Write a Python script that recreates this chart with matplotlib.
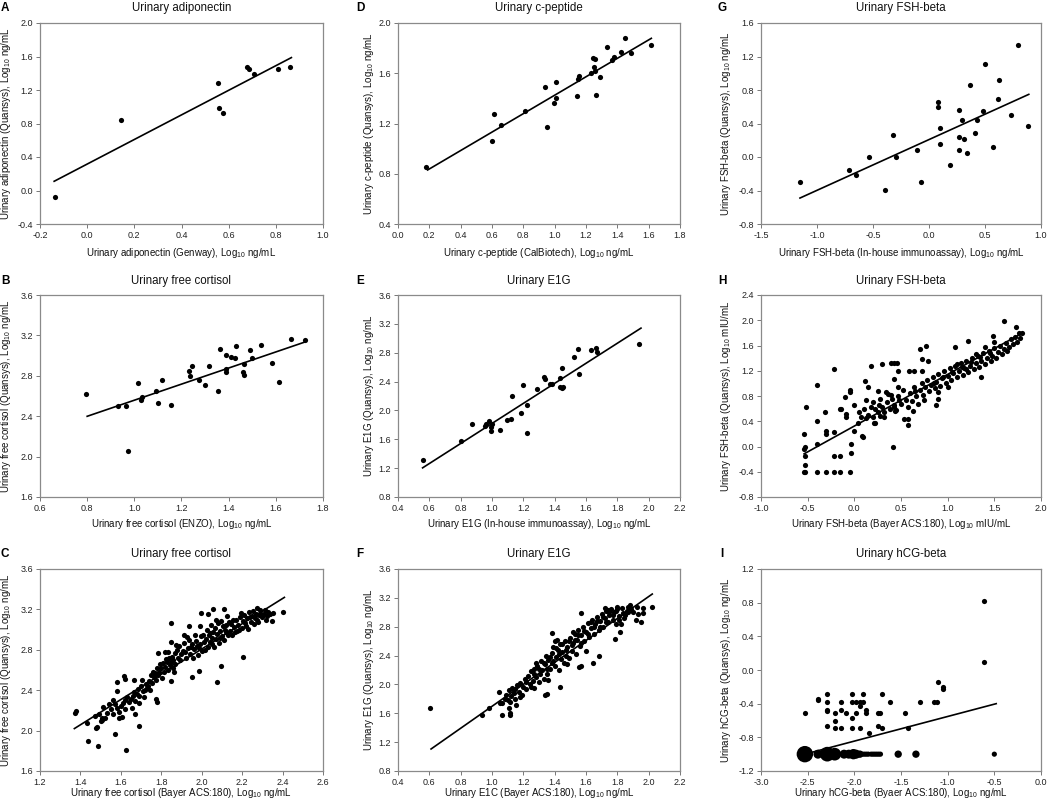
import numpy as np
import matplotlib
matplotlib.use("Agg")
import matplotlib.pyplot as plt
from matplotlib.ticker import FormatStrFormatter

plt.rcParams['font.family'] = ['Liberation Sans', 'DejaVu Sans']
plt.rcParams['mathtext.fontset'] = 'custom'
plt.rcParams['mathtext.rm'] = 'Liberation Sans'
plt.rcParams['mathtext.it'] = 'Liberation Sans:italic'
plt.rcParams['axes.unicode_minus'] = False

# ---------------- data ----------------
# A: adiponectin
a_x = [-0.135, 0.145, 0.555, 0.56, 0.574, 0.678, 0.687, 0.707, 0.808, 0.86]
a_y = [-0.08, 0.84, 1.28, 0.99, 0.93, 1.48, 1.45, 1.39, 1.445, 1.48]
a_fit_x = [-0.14, 0.866]
a_fit_y = [0.11, 1.587]

# B: free cortisol (ENZO)
b_x = [0.797, 0.929, 0.966, 0.972, 1.017, 1.029, 1.034, 1.092, 1.100, 1.119, 1.157, 1.231,
       1.235, 1.244, 1.275, 1.301, 1.318, 1.354, 1.365, 1.388, 1.388, 1.389, 1.411, 1.426,
       1.433, 1.459, 1.463, 1.465, 1.492, 1.497, 1.537, 1.585, 1.613, 1.663, 1.724]
b_y = [2.623, 2.504, 2.504, 2.055, 2.732, 2.557, 2.587, 2.653, 2.527, 2.758, 2.514, 2.848,
       2.795, 2.897, 2.762, 2.709, 2.900, 2.650, 3.062, 3.009, 2.871, 2.834, 2.989, 2.980,
       3.095, 2.838, 2.914, 2.811, 3.052, 2.976, 3.108, 2.930, 2.735, 3.161, 3.151]
b_fit_x = [0.80, 1.724]
b_fit_y = [2.399, 3.135]

# C: free cortisol (Bayer)
c_pts = [(1.375, 2.175), (1.38, 2.19), (1.433, 2.076), (1.435, 1.898), (1.475, 2.023), (1.481, 2.036),
         (1.488, 1.848), (1.505, 2.106), (1.508, 2.129), (1.511, 2.238), (1.569, 1.970), (1.624, 1.805),
         (1.604, 2.136), (1.671, 2.162), (1.689, 2.046), (1.583, 2.486), (1.579, 2.393), (1.616, 2.542),
         (1.621, 2.509), (1.666, 2.502), (1.707, 2.502), (1.773, 2.317), (1.778, 2.288), (1.782, 2.764),
         (1.848, 3.061), (1.850, 2.876), (1.848, 2.493), (1.939, 3.038), (1.953, 2.532), (1.989, 2.592),
         (1.998, 3.160), (2.031, 3.154), (2.057, 3.203), (2.110, 3.203), (2.076, 2.479), (2.097, 2.641),
         (2.205, 2.724), (2.275, 3.210), (2.346, 3.088), (2.404, 3.170),
         (1.47, 2.14), (1.49, 2.16), (1.50, 2.10), (1.52, 2.12),
         (1.53, 2.17), (1.54, 2.26), (1.55, 2.21), (1.56, 2.16), (1.57, 2.26), (1.58, 2.22), (1.59, 2.18),
         (1.60, 2.24), (1.61, 2.27), (1.62, 2.21), (1.63, 2.33), (1.64, 2.28), (1.65, 2.31), (1.66, 2.34),
         (1.665, 2.38), (1.67, 2.29), (1.68, 2.36), (1.685, 2.41), (1.69, 2.34), (1.70, 2.44), (1.71, 2.39),
         (1.72, 2.40), (1.725, 2.46), (1.73, 2.42), (1.735, 2.44),
         (1.74, 2.49), (1.75, 2.55), (1.76, 2.58), (1.765, 2.53), (1.77, 2.57), (1.78, 2.62), (1.785, 2.55),
         (1.79, 2.58), (1.80, 2.62), (1.81, 2.67), (1.815, 2.58), (1.82, 2.63), (1.83, 2.68), (1.835, 2.60),
         (1.84, 2.72), (1.845, 2.65), (1.85, 2.68), (1.86, 2.62), (1.865, 2.58), (1.855, 2.73),
         (1.87, 2.77), (1.88, 2.80), (1.885, 2.72), (1.89, 2.84), (1.90, 2.76), (1.905, 2.79), (1.91, 2.87),
         (1.92, 2.72), (1.93, 2.82), (1.935, 2.90), (1.94, 2.76), (1.95, 2.86), (1.96, 2.81), (1.97, 2.89),
         (1.975, 2.84), (1.98, 2.75), (1.99, 2.86), (1.995, 2.94), (2.00, 2.79), (2.005, 2.95), (2.01, 2.88),
         (2.02, 2.91), (2.025, 3.00), (2.03, 2.83), (2.035, 2.95), (2.04, 2.88), (2.045, 3.05), (2.05, 2.92),
         (2.055, 2.98), (2.06, 2.83), (2.065, 3.02), (2.07, 2.91), (2.075, 2.96), (2.08, 3.07), (2.085, 2.87),
         (2.09, 2.99), (2.10, 2.94), (2.105, 3.04), (2.11, 2.90), (2.115, 3.00), (2.12, 3.05), (2.13, 2.95),
         (2.135, 3.08), (2.14, 2.99), (2.145, 3.06), (2.15, 2.95), (2.16, 3.03), (2.17, 3.10), (2.175, 2.99),
         (2.18, 3.05), (2.19, 3.12), (2.20, 3.02), (2.205, 3.09), (2.21, 3.14), (2.22, 3.04), (2.225, 3.11),
         (2.235, 3.17), (2.245, 3.08), (2.25, 3.13), (2.26, 3.06), (2.27, 3.15), (2.275, 3.10), (2.285, 3.14),
         (2.29, 3.19), (2.30, 3.12), (2.31, 3.15), (2.32, 3.10), (2.33, 3.17), (2.34, 3.15), (2.355, 3.16),
         (1.56, 2.30), (1.59, 2.12), (1.62, 2.30), (1.655, 2.22), (1.69, 2.27), (1.715, 2.33), (1.745, 2.40),
         (1.755, 2.47), (1.775, 2.50), (1.795, 2.66), (1.805, 2.52), (1.825, 2.71), (1.835, 2.78),
         (1.86, 2.70), (1.87, 2.66), (1.875, 2.85), (1.895, 2.70), (1.915, 2.78), (1.925, 2.93),
         (1.945, 2.83), (1.955, 2.72), (1.965, 2.95), (1.985, 2.82), (2.015, 2.80), (2.04, 2.97),
         (2.05, 2.86), (2.07, 3.10), (2.09, 2.92), (2.095, 3.09), (2.12, 2.98), (2.125, 3.13),
         (2.155, 3.10), (2.165, 2.98), (2.185, 3.00), (2.195, 3.16), (2.215, 3.07), (2.23, 3.01),
         (2.24, 3.12), (2.255, 3.18), (2.265, 3.11), (2.28, 3.08), (2.295, 3.15), (2.315, 3.19),
         (2.325, 3.13), (1.99, 3.04), (1.91, 2.95), (1.82, 2.78)]
c_x = [p[0] for p in c_pts]
c_y = [p[1] for p in c_pts]
c_fit_x = [1.37, 2.409]
c_fit_y = [2.02, 3.319]

# D: c-peptide
d_x = [0.179, 0.600, 0.610, 0.659, 0.813, 0.941, 0.949, 0.998, 1.006, 1.011, 1.141, 1.147, 1.154, 1.231,
       1.242, 1.255, 1.253, 1.255, 1.263, 1.288, 1.333, 1.364, 1.377, 1.423, 1.451, 1.486, 1.615]
d_y = [0.857, 1.063, 1.273, 1.188, 1.300, 1.488, 1.175, 1.361, 1.406, 1.530, 1.416, 1.557, 1.581, 1.605,
       1.721, 1.713, 1.652, 1.618, 1.430, 1.573, 1.806, 1.706, 1.727, 1.772, 1.878, 1.764, 1.822]
d_fit_x = [0.189, 1.617]
d_fit_y = [0.830, 1.878]

# E: E1G (in-house)
e_x = [0.557, 0.804, 0.870, 0.955, 0.961, 0.984, 0.993, 0.999, 0.995, 1.052, 1.097, 1.123, 1.127, 1.184,
       1.197, 1.222, 1.225, 1.290, 1.331, 1.341, 1.371, 1.386, 1.435, 1.445, 1.452, 1.433, 1.446, 1.526,
       1.552, 1.556, 1.630, 1.662, 1.672, 1.939]
e_y = [1.31, 1.571, 1.805, 1.787, 1.805, 1.847, 1.764, 1.810, 1.709, 1.732, 1.870, 1.888, 2.200, 1.970,
       2.352, 1.690, 2.081, 2.301, 2.466, 2.430, 2.361, 2.365, 2.324, 2.315, 2.329, 2.452, 2.595, 2.742,
       2.856, 2.508, 2.833, 2.861, 2.811, 2.921]
e_fit_x = [0.557, 1.951]
e_fit_y = [1.204, 3.141]

# F: E1G (Bayer)
f_pts = [(0.606, 1.678), (0.938, 1.572), (0.980, 1.673), (1.044, 1.900), (1.053, 1.748), (1.061, 1.738),
         (1.066, 1.572), (1.113, 1.572), (1.117, 1.600), (1.108, 1.673), (1.113, 1.757), (1.155, 1.710),
         (1.337, 1.854), (1.352, 1.863), (1.433, 1.969), (1.380, 2.708), (1.416, 2.616), (1.570, 2.986),
         (1.557, 2.237), (1.565, 2.256), (1.642, 2.293), (1.685, 2.394), (1.783, 2.630), (1.822, 2.838),
         (1.916, 2.893), (1.950, 2.870), (1.931, 2.972), (1.961, 2.986), (2.023, 3.078), (1.721, 3.055),
         (1.743, 3.032), (1.796, 3.078), (1.839, 2.986), (1.871, 3.078), (1.924, 3.078), (1.961, 3.055),
         (1.08, 1.80), (1.09, 1.86), (1.10, 1.78), (1.11, 1.92), (1.12, 1.84), (1.13, 1.95), (1.14, 1.88),
         (1.15, 1.80), (1.16, 1.99), (1.17, 1.90), (1.18, 2.02), (1.19, 1.85), (1.20, 1.96),
         (1.21, 2.07), (1.22, 1.93), (1.23, 2.12), (1.24, 2.00), (1.25, 2.18), (1.26, 2.05), (1.265, 2.22),
         (1.27, 1.95), (1.28, 2.10), (1.29, 2.26), (1.30, 2.03), (1.305, 2.15), (1.31, 2.32), (1.32, 2.20),
         (1.33, 2.08), (1.34, 2.28), (1.345, 2.40), (1.35, 2.14),
         (1.36, 2.34), (1.37, 2.22), (1.38, 2.44), (1.385, 2.30), (1.39, 2.52), (1.40, 2.26), (1.41, 2.38),
         (1.42, 2.48), (1.43, 2.20), (1.435, 2.56), (1.44, 2.35), (1.45, 2.45), (1.46, 2.30), (1.465, 2.60),
         (1.47, 2.40), (1.48, 2.52), (1.49, 2.36), (1.50, 2.64),
         (1.51, 2.46), (1.52, 2.58), (1.53, 2.70), (1.535, 2.42), (1.54, 2.62), (1.55, 2.76), (1.56, 2.53),
         (1.57, 2.68), (1.58, 2.80), (1.59, 2.60), (1.60, 2.72), (1.61, 2.85), (1.62, 2.66), (1.63, 2.78),
         (1.64, 2.90), (1.65, 2.70),
         (1.66, 2.84), (1.67, 2.93), (1.68, 2.76), (1.69, 2.88), (1.70, 2.98), (1.71, 2.80), (1.72, 2.92),
         (1.73, 3.02), (1.74, 2.86), (1.75, 2.96), (1.76, 3.05), (1.77, 2.90), (1.78, 3.00), (1.79, 2.84),
         (1.80, 3.04), (1.81, 2.95), (1.82, 2.72), (1.83, 3.06), (1.85, 2.96), (1.86, 3.02), (1.88, 3.10),
         (1.90, 3.00),
         (1.15, 1.93), (1.18, 1.82), (1.22, 2.04), (1.25, 1.96), (1.27, 2.14), (1.30, 2.22), (1.33, 2.30),
         (1.35, 2.22), (1.37, 2.38), (1.39, 2.32), (1.41, 2.50), (1.43, 2.42), (1.45, 2.56), (1.47, 2.48),
         (1.49, 2.60), (1.51, 2.54), (1.53, 2.62), (1.55, 2.68), (1.57, 2.58), (1.59, 2.74), (1.61, 2.70),
         (1.63, 2.86), (1.65, 2.80), (1.67, 2.88), (1.69, 2.80), (1.71, 2.94), (1.73, 2.86), (1.75, 3.00),
         (1.77, 2.96), (1.79, 3.02), (1.81, 2.90), (1.84, 2.92), (1.87, 3.00), (1.89, 3.04), (1.28, 2.30),
         (1.40, 2.60), (1.52, 2.72), (1.36, 2.06), (1.48, 2.28), (1.60, 2.46)]
f_x = [p[0] for p in f_pts]
f_y = [p[1] for p in f_pts]
f_fit_x = [0.611, 2.023]
f_fit_y = [1.105, 3.253]

# G: FSH-beta (in-house)
g_x = [-1.152, -0.718, -0.653, -0.535, -0.393, -0.325, -0.296, -0.107, -0.068, 0.079, 0.082, 0.094,
       0.100, 0.191, 0.265, 0.271, 0.265, 0.295, 0.313, 0.339, 0.363, 0.410, 0.428, 0.484, 0.501,
       0.575, 0.617, 0.628, 0.729, 0.791, 0.885]
g_y = [-0.302, -0.151, -0.219, 0.004, -0.394, 0.259, 0.004, 0.084, -0.302, 0.597, 0.653, 0.346,
       0.151, -0.095, 0.561, 0.235, 0.084, 0.438, 0.211, 0.048, 0.860, 0.283, 0.442, 0.549, 1.114,
       0.119, 0.689, 0.919, 0.498, 1.337, 0.366]
g_fit_x = [-1.152, 0.891]
g_fit_y = [-0.490, 0.748]

# H: FSH-beta (Bayer)
h_pts = [(-0.538, -0.405), (-0.524, -0.405), (-0.399, -0.405), (-0.307, -0.405), (-0.221, -0.405),
         (-0.154, -0.405), (-0.047, -0.405), (-0.53, -0.30), (-0.53, -0.15), (-0.54, -0.04), (-0.53, -0.01),
         (-0.54, 0.20), (-0.52, 0.62), (-0.40, 0.97), (-0.40, 0.40), (-0.40, 0.04), (-0.31, 0.54),
         (-0.30, 0.25), (-0.30, 0.20), (-0.22, 1.22), (-0.22, 0.23), (-0.22, -0.15), (-0.15, -0.15),
         (-0.15, 0.60), (-0.14, 0.59), (-0.10, 0.78), (-0.09, 0.52), (-0.09, 0.47), (-0.05, 0.90),
         (-0.05, 0.86), (-0.04, 0.04), (-0.04, -0.10), (0.00, 0.25), (0.00, 0.66), (0.04, 0.38),
         (0.07, 0.46), (0.08, 0.17), (0.09, 0.15), (0.11, 1.04), (0.13, 0.73), (0.15, 0.94), (0.18, 1.27),
         (0.20, 0.46), (0.21, 0.38), (0.22, 0.60), (0.25, 0.88), (0.26, 0.65), (0.30, 1.30), (0.32, 0.46),
         (0.34, 0.86), (0.36, 0.83), (0.39, 0.82), (0.39, 1.33), (0.42, 1.33), (0.46, 1.32), (0.41, -0.01),
         (0.43, 1.07), (0.43, 0.62), (0.44, 0.57), (0.47, 1.20), (0.47, 0.94), (0.48, 0.73), (0.53, 0.44),
         (0.57, 0.44), (0.58, 0.34), (0.59, 1.20), (0.64, 1.20), (0.63, 0.57), (0.70, 1.54), (0.77, 1.60),
         (0.72, 1.38), (0.79, 1.36), (0.73, 1.20), (0.87, 0.65), (0.90, 0.75), (1.08, 1.58), (1.22, 1.67),
         (1.36, 1.10), (1.49, 1.75), (1.60, 1.99), (1.73, 1.90), (1.80, 1.80),
         (0.05, 0.55), (0.10, 0.60), (0.15, 0.50), (0.20, 0.70), (0.25, 0.55), (0.28, 0.75), (0.12, 0.45),
         (0.18, 0.62), (0.22, 0.38), (0.27, 0.48),
         (0.30, 0.62), (0.32, 0.55), (0.35, 0.70), (0.38, 0.60), (0.40, 0.75), (0.42, 0.66), (0.45, 0.58),
         (0.47, 0.80), (0.50, 0.68), (0.52, 0.90), (0.55, 0.74), (0.57, 0.62), (0.60, 0.85), (0.62, 0.72),
         (0.64, 0.95), (0.66, 0.80), (0.68, 0.68), (0.70, 0.90), (0.72, 1.00), (0.74, 0.82), (0.76, 0.94),
         (0.78, 1.05), (0.80, 0.88), (0.82, 0.98), (0.84, 1.10), (0.86, 0.92), (0.88, 1.02), (0.90, 1.15),
         (0.92, 0.96), (0.94, 1.08), (0.96, 1.20), (0.98, 1.00), (1.00, 1.12), (1.02, 1.25), (1.04, 1.05),
         (1.06, 1.16), (1.08, 1.28), (1.10, 1.10), (1.12, 1.20), (1.14, 1.32), (1.16, 1.14), (1.18, 1.24),
         (1.20, 1.36), (1.22, 1.18), (1.24, 1.28), (1.26, 1.40), (1.28, 1.22), (1.30, 1.33), (1.32, 1.44),
         (1.34, 1.26), (1.36, 1.36), (1.38, 1.48), (1.40, 1.30), (1.42, 1.40), (1.44, 1.52), (1.46, 1.35),
         (1.48, 1.44), (1.50, 1.56), (1.52, 1.40), (1.54, 1.50), (1.56, 1.60), (1.58, 1.46), (1.60, 1.54),
         (1.62, 1.64), (1.64, 1.52), (1.66, 1.58), (1.68, 1.70), (1.70, 1.62), (1.72, 1.74), (1.74, 1.66),
         (1.76, 1.80), (1.78, 1.72),
         (0.85, 1.00), (0.95, 1.10), (1.05, 1.18), (1.15, 1.26), (1.25, 1.34), (1.35, 1.42), (1.45, 1.48),
         (1.10, 1.30), (1.20, 1.22), (1.30, 1.46), (0.90, 0.86), (1.00, 0.95), (0.75, 0.74), (0.65, 0.88),
         (1.40, 1.58), (1.50, 1.66)]
h_x = [p[0] for p in h_pts]
h_y = [p[1] for p in h_pts]
h_fit_x = [-0.538, 1.798]
h_fit_y = [-0.116, 1.795]

# I: hCG-beta
i_x = [-2.53, -2.39, -2.39, -2.29, -2.29, -2.29, -2.29, -2.29, -2.21, -2.21, -2.21, -2.14, -2.14, -2.14,
       -2.09, -2.03, -2.03, -2.03, -2.03, -1.98, -1.98, -1.94, -1.94, -1.91, -1.91, -1.88, -1.88, -1.94,
       -1.84, -1.75, -1.75, -1.73, -1.70, -1.70, -1.62, -1.46, -1.43, -1.30, -1.15, -1.11, -1.10, -1.05,
       -1.05, -0.61, -0.61]
i_y = [-0.51, -0.34, -0.36, -0.29, -0.38, -0.47, -0.49, -0.66, -0.51, -0.61, -0.69, -0.38, -0.48, -0.69,
       -0.51, -0.29, -0.38, -0.57, -0.69, -0.38, -0.51, -0.38, -0.43, -0.29, -0.38, -0.47, -0.51, -0.69,
       -0.75, -0.67, -0.51, -0.51, -0.29, -0.69, -0.38, -0.51, -0.69, -0.38, -0.38, -0.38, -0.14, -0.20,
       -0.22, 0.82, 0.09]
# values at the detection floor (-1.0): x positions and number of overlapping samples
i_floor_x = [-2.53, -2.39, -2.29, -2.21, -2.11, -2.06, -2.01, -1.98, -1.94, -1.91, -1.89, -1.87, -1.85,
             -1.82, -1.80, -1.78, -1.76, -1.74, -1.72, -1.53, -1.34, -0.50]
i_floor_n = [10, 3, 8, 6, 3, 3, 4, 3, 2, 1, 1, 1, 1, 1, 1, 1, 1, 1, 1, 2, 2, 1]
i_floor_y = -1.0
i_fit_x = [-2.53, -0.48]
i_fit_y = [-1.0, -0.40]

# ---------------- panels ----------------
panels = [
    dict(letter='A', title='Urinary adiponectin', x=a_x, y=a_y, fx=a_fit_x, fy=a_fit_y,
         xl='Urinary adiponectin (Genway), Log$_{10}$ ng/mL',
         yl='Urinary adiponectin (Quansys), Log$_{10}$ ng/mL',
         xlim=(-0.2, 1.0), xstep=0.2, ylim=(-0.4, 2.0), ystep=0.4, r=0, c=0),
    dict(letter='B', title='Urinary free cortisol', x=b_x, y=b_y, fx=b_fit_x, fy=b_fit_y,
         xl='Urinary free cortisol (ENZO), Log$_{10}$ ng/mL',
         yl='Urinary free cortisol (Quansys), Log$_{10}$ ng/mL',
         xlim=(0.6, 1.8), xstep=0.2, ylim=(1.6, 3.6), ystep=0.4, r=1, c=0),
    dict(letter='C', title='Urinary free cortisol', x=c_x, y=c_y, fx=c_fit_x, fy=c_fit_y,
         xl='Urinary free cortisol (Bayer ACS:180), Log$_{10}$ ng/mL',
         yl='Urinary free cortisol (Quansys), Log$_{10}$ ng/mL',
         xlim=(1.2, 2.6), xstep=0.2, ylim=(1.6, 3.6), ystep=0.4, r=2, c=0),
    dict(letter='D', title='Urinary c-peptide', x=d_x, y=d_y, fx=d_fit_x, fy=d_fit_y,
         xl='Urinary c-peptide (CalBiotech), Log$_{10}$ ng/mL',
         yl='Urinary c-peptide (Quansys), Log$_{10}$ ng/mL',
         xlim=(0.0, 1.8), xstep=0.2, ylim=(0.4, 2.0), ystep=0.4, r=0, c=1),
    dict(letter='E', title='Urinary E1G', x=e_x, y=e_y, fx=e_fit_x, fy=e_fit_y,
         xl='Urinary E1G (In-house immunoassay), Log$_{10}$ ng/mL',
         yl='Urinary E1G (Quansys), Log$_{10}$ ng/mL',
         xlim=(0.4, 2.2), xstep=0.2, ylim=(0.8, 3.6), ystep=0.4, r=1, c=1),
    dict(letter='F', title='Urinary E1G', x=f_x, y=f_y, fx=f_fit_x, fy=f_fit_y,
         xl='Urinary E1C (Bayer ACS:180), Log$_{10}$ ng/mL',
         yl='Urinary E1G (Quansys), Log$_{10}$ ng/mL',
         xlim=(0.4, 2.2), xstep=0.2, ylim=(0.8, 3.6), ystep=0.4, r=2, c=1),
    dict(letter='G', title='Urinary FSH-beta', x=g_x, y=g_y, fx=g_fit_x, fy=g_fit_y,
         xl='Urinary FSH-beta (In-house immunoassay), Log$_{10}$ ng/mL',
         yl='Urinary FSH-beta (Quansys), Log$_{10}$ ng/mL',
         xlim=(-1.5, 1.0), xstep=0.5, ylim=(-0.8, 1.6), ystep=0.4, r=0, c=2),
    dict(letter='H', title='Urinary FSH-beta', x=h_x, y=h_y, fx=h_fit_x, fy=h_fit_y,
         xl='Urinary FSH-beta (Bayer ACS:180), Log$_{10}$ mIU/mL',
         yl='Urinary FSH-beta (Quansys), Log$_{10}$ mIU/mL',
         xlim=(-1.0, 2.0), xstep=0.5, ylim=(-0.8, 2.4), ystep=0.4, r=1, c=2),
    dict(letter='I', title='Urinary hCG-beta', x=i_x, y=i_y, fx=i_fit_x, fy=i_fit_y,
         xl='Urinary hCG-beta (Byaer ACS:180), Log$_{10}$ ng/mL',
         yl='Urinary hCG-beta (Quansys), Log$_{10}$ ng/mL',
         xlim=(-3.0, 0.0), xstep=0.5, ylim=(-1.2, 1.2), ystep=0.4, r=2, c=2),
]

# ---------------- layout (pixels) ----------------
W, H = 1050, 806
col_lr = [(40, 323), (398, 680), (761, 1041)]
row_tb = [(23, 224), (295, 497), (569, 771)]
letter_x = [5, 360, 722]
letter_y = [8, 281, 554]
xlab_off = [29, 27, 22]     # px below axes
ylab_off = [34, 29, 35]     # px left of axes
PT = 0.72                   # points per pixel at 100 dpi

fig = plt.figure(figsize=(W / 100, H / 100), dpi=100)
DOT = 14

for p in panels:
    l, r = col_lr[p['c']]
    t, b = row_tb[p['r']]
    ax = fig.add_axes([l / W, 1 - b / H, (r - l) / W, (b - t) / H])
    ax.scatter(p['x'], p['y'], s=DOT, c='black', linewidths=0, zorder=3)
    if p['letter'] == 'I':
        ax.scatter(i_floor_x, [i_floor_y] * len(i_floor_x),
                   s=[DOT * n for n in i_floor_n], c='black', linewidths=0, zorder=3)
    ax.plot(p['fx'], p['fy'], color='black', lw=1.2, zorder=2)

    x0, x1 = p['xlim']
    y0, y1 = p['ylim']
    ax.set_xlim(x0, x1)
    ax.set_ylim(y0, y1)
    ax.set_xticks(np.round(np.arange(x0, x1 + 1e-9, p['xstep']), 2))
    ax.set_yticks(np.round(np.arange(y0, y1 + 1e-9, p['ystep']), 2))
    ax.xaxis.set_major_formatter(FormatStrFormatter('%.1f'))
    ax.yaxis.set_major_formatter(FormatStrFormatter('%.1f'))
    for sp in ax.spines.values():
        sp.set_color('#8a8a8a')
        sp.set_linewidth(0.9)
    ax.tick_params(direction='out', length=3, width=0.7, color='#777777',
                   labelsize=6.5, pad=2, labelcolor='#222222')

    ax.annotate(p['title'], xy=(0.5, 1), xycoords='axes fraction',
                xytext=(0, 14.5 * PT), textcoords='offset points',
                ha='center', va='center', fontsize=8.3, color='#111111')
    ax.annotate(p['xl'], xy=(0.5, 0), xycoords='axes fraction',
                xytext=(0, -xlab_off[p['r']] * PT), textcoords='offset points',
                ha='center', va='center', fontsize=7, color='#111111')
    ax.annotate(p['yl'], xy=(0, 0.5), xycoords='axes fraction',
                xytext=(-ylab_off[p['c']] * PT, 0), textcoords='offset points',
                ha='center', va='center', rotation=90, fontsize=7, color='#111111')
    fig.text(letter_x[p['c']] / W, 1 - letter_y[p['r']] / H, p['letter'],
             fontsize=8.5, fontweight='bold', ha='center', va='center')

fig.savefig('out.png', dpi=100)
